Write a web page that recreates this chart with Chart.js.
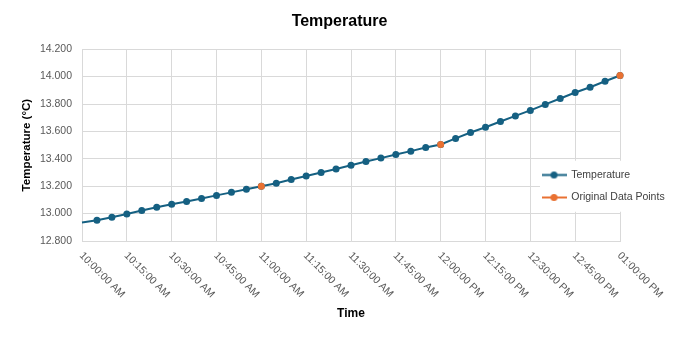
<!DOCTYPE html>
<html>
<head>
<meta charset="utf-8">
<title>Temperature</title>
<script src="https://cdn.jsdelivr.net/npm/chart.js@4.4.1/dist/chart.umd.min.js"></script>
<style>
  html, body { margin: 0; padding: 0; background: #fff; }
</style>
</head>
<body>
<canvas id="tempChart" width="679" height="341"></canvas>
<script>
// minutes after 10:00 AM, one reading every 5 minutes
const times = [0, 5, 10, 15, 20, 25, 30, 35, 40, 45, 50, 55, 60, 65, 70, 75, 80, 85, 90,
  95, 100, 105, 110, 115, 120, 125, 130, 135, 140, 145, 150, 155, 160, 165, 170, 175, 180];
const temperatures = [12.935, 12.952, 12.973, 12.997, 13.022, 13.046, 13.069, 13.089, 13.110,
  13.133, 13.155, 13.177, 13.200, 13.222, 13.249, 13.274, 13.300, 13.325, 13.353, 13.380,
  13.405, 13.432, 13.456, 13.482, 13.505, 13.549, 13.592, 13.630, 13.672, 13.713, 13.753,
  13.797, 13.840, 13.884, 13.922, 13.966, 14.008];

// the measured points the curve was built from
const originalTimes = [60, 120, 180];
const originalValues = [13.200, 13.505, 14.008];

const xTickLabels = ['10:00:00 AM', '10:15:00 AM', '10:30:00 AM', '10:45:00 AM', '11:00:00 AM',
  '11:15:00 AM', '11:30:00 AM', '11:45:00 AM', '12:00:00 PM', '12:15:00 PM', '12:30:00 PM',
  '12:45:00 PM', '01:00:00 PM'];
const xStep = 15;

const blue = '#156082';
const orange = '#E97132';

Chart.defaults.font.family = '"Liberation Sans", Arial, sans-serif';

// little "line with a dot" icon like the excel legend
function legendIcon(color) {
  const c = document.createElement('canvas');
  c.width = 25;
  c.height = 9;
  const g = c.getContext('2d');
  g.strokeStyle = color;
  g.lineWidth = 2;
  g.beginPath();
  g.moveTo(0, 4.5);
  g.lineTo(25, 4.5);
  g.stroke();
  g.fillStyle = color;
  g.beginPath();
  g.arc(12.5, 4.5, 3.5, 0, Math.PI * 2);
  g.fill();
  return c;
}
const icons = [legendIcon(blue), legendIcon(orange)];

// excel puts the legend on top of the plot, so move it there after layout
const legendPlacer = {
  id: 'legendPlacer',
  afterLayout(chart) {
    const lg = chart.legend;
    lg.left = 530;
    lg.right = 679;
    lg.width = lg.right - lg.left;
    lg.top = 157.75;
    lg.bottom = lg.top + 60;
    lg.height = 60;
    if (!lg._wrapped) {
      const origDraw = lg.draw;
      lg.draw = function (area) {
        const ctx = chart.ctx;
        ctx.save();
        ctx.fillStyle = '#fff';
        ctx.fillRect(this.left + 10, this.top + 3, 150, 51);
        ctx.restore();
        origDraw.call(this, area);
      };
      lg._wrapped = true;
    }
  }
};

// slanted time labels running down to the right
const timeLabels = {
  id: 'timeLabels',
  afterDraw(chart) {
    const xs = chart.scales.x;
    const ctx = chart.ctx;
    ctx.save();
    ctx.font = '10.5px "Liberation Sans", Arial, sans-serif';
    ctx.fillStyle = '#595959';
    ctx.textAlign = 'left';
    ctx.textBaseline = 'middle';
    xs.ticks.forEach(t => {
      const px = xs.getPixelForValue(t.value);
      ctx.save();
      ctx.translate(px - 1, xs.top + 13);
      ctx.rotate(Math.PI / 4);
      ctx.fillText(xTickLabels[Math.round(t.value / xStep)], 0, 0);
      ctx.restore();
    });
    ctx.restore();
  }
};

const chart = new Chart(document.getElementById('tempChart'), {
  type: 'line',
  data: {
    datasets: [{
      label: 'Temperature',
      data: times.map((t, i) => ({ x: t, y: temperatures[i] })),
      borderColor: blue,
      backgroundColor: blue,
      borderWidth: 2,
      tension: 0,
      pointRadius: ctx => ctx.dataIndex === 0 ? 0 : 3.5,
      pointBorderWidth: 0,
      pointBackgroundColor: blue,
      clip: false,
      order: 1
    }, {
      label: 'Original Data Points',
      data: originalTimes.map((t, i) => ({ x: t, y: originalValues[i] })),
      borderColor: orange,
      backgroundColor: orange,
      showLine: false,
      pointRadius: 3.5,
      pointBorderWidth: 0,
      pointBackgroundColor: orange,
      clip: false,
      order: 0
    }]
  },
  options: {
    responsive: false,
    animation: false,
    devicePixelRatio: 1,
    layout: { padding: 0 },
    plugins: {
      title: {
        display: true,
        text: 'Temperature',
        color: '#000',
        font: { size: 16, weight: 'bold' },
        padding: { top: 12, bottom: 18 }
      },
      legend: {
        position: 'right',
        align: 'start',
        maxWidth: 59,
        labels: {
          color: '#404040',
          font: { size: 10.5 },
          padding: 12,
          usePointStyle: true,
          pointStyleWidth: 24,
          sort: (a, b) => a.datasetIndex - b.datasetIndex,
          generateLabels(chart) {
            const items = Chart.defaults.plugins.legend.labels.generateLabels(chart);
            items.forEach(it => { it.pointStyle = icons[it.datasetIndex]; });
            return items;
          }
        }
      },
      tooltip: { enabled: false }
    },
    scales: {
      x: {
        type: 'linear',
        min: 0,
        max: 180,
        ticks: { stepSize: xStep, display: false },
        grid: { color: '#d9d9d9', drawTicks: false },
        border: { color: '#d9d9d9' },
        title: {
          display: true,
          text: 'Time',
          color: '#000',
          font: { size: 12, weight: 'bold' },
          padding: { top: 0, bottom: 20 }
        },
        afterFit(scale) { scale.height = 100; }
      },
      y: {
        min: 12.8,
        max: 14.2,
        ticks: {
          stepSize: 0.2,
          color: '#595959',
          font: { size: 10.5 },
          padding: 10,
          callback: v => v.toFixed(3)
        },
        grid: { color: '#d9d9d9', drawTicks: false },
        border: { color: '#d9d9d9' },
        title: {
          display: true,
          text: 'Temperature (°C)',
          color: '#000',
          font: { size: 11.5, weight: 'bold' },
          padding: { top: 20, bottom: 0 }
        },
        afterFit(scale) { scale.width = 82; }
      }
    }
  },
  plugins: [legendPlacer, timeLabels]
});
</script>
</body>
</html>
